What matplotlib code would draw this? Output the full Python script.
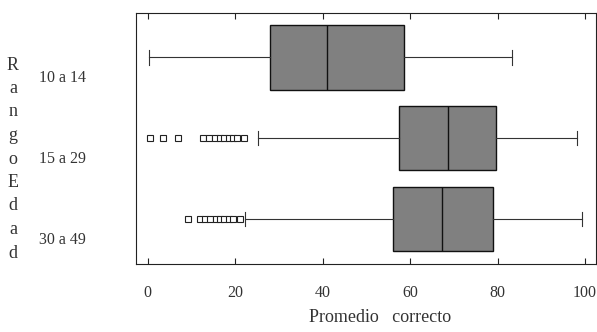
import numpy as np
import matplotlib.pyplot as plt
import matplotlib.transforms as mtransforms

plt.rcParams['font.family'] = ['Liberation Serif', 'DejaVu Serif']

# grupos de edad y resumen de cada caja
grupos = ['10 a 14', '15 a 29', '30 a 49']
q1 = [27.9, 57.4, 56.0]
mediana = [41.0, 68.6, 67.3]
q3 = [58.6, 79.6, 79.0]
bigote_min = [0.2, 25.2, 22.2]
bigote_max = [83.3, 98.2, 99.3]
atipicos = [
    [],
    [0.6, 3.5, 6.9, 12.6, 14.0, 15.3, 16.5, 17.5, 18.5, 19.5, 20.5, 22.0],
    [9.2, 11.9, 13.0, 14.2, 15.5, 16.5, 17.5, 18.5, 19.5, 21.0],
]
xticks = [0, 20, 40, 60, 80, 100]

stats = []
for i in range(len(grupos)):
    stats.append(dict(q1=q1[i], med=mediana[i], q3=q3[i],
                      whislo=bigote_min[i], whishi=bigote_max[i],
                      fliers=atipicos[i], label=grupos[i]))

fig = plt.figure(figsize=(5.97, 3.32), dpi=100)
ax = fig.add_axes([0.2278, 0.2048, 0.7705, 0.756])

pos = [1, 2, 3]
ax.bxp(stats, positions=pos, vert=False, widths=0.8, capwidths=0.18,
       patch_artist=True,
       boxprops=dict(facecolor='#808080', edgecolor='#111111', linewidth=1.0),
       medianprops=dict(color='#111111', linewidth=1.0),
       whiskerprops=dict(color='#333333', linewidth=0.8),
       capprops=dict(color='#333333', linewidth=0.8),
       flierprops=dict(marker='s', markersize=5, markerfacecolor='white',
                       markeredgecolor='#222222', markeredgewidth=0.8,
                       linestyle='none'))

ax.set_xlim(-2.7, 102.5)
ax.set_ylim(3.56, 0.45)
ax.set_xticks(xticks)
ax.set_xticklabels([str(v) for v in xticks])
ax.set_yticks(pos)
ax.set_yticklabels(grupos, ha='left')

ax.tick_params(axis='x', direction='in', top=True, length=4, width=0.8,
               pad=15, labelsize=11.5, colors='#222222', labelcolor='#333333')
ax.tick_params(axis='y', length=0, pad=70, labelsize=11.5, labelcolor='#333333')
# etiquetas del eje y un poco mas abajo, como en el original
offset = mtransforms.ScaledTranslation(0, -0.19, fig.dpi_scale_trans)
for lab in ax.get_yticklabels():
    lab.set_transform(lab.get_transform() + offset)

for s in ax.spines.values():
    s.set_linewidth(0.8)
    s.set_color('#222222')

ax.set_xlabel('Promedio   correcto', fontsize=13, color='#333333')
ax.xaxis.set_label_coords(0.53, -0.18)

# titulo vertical letra por letra
letras = list('RangoEdad')
for k, c in enumerate(letras):
    fig.text(13 / 597, 1 - (65 + k * 23.5) / 332, c, fontsize=13,
             color='#333333', ha='center', va='center')

fig.savefig('out.png', dpi=100)
